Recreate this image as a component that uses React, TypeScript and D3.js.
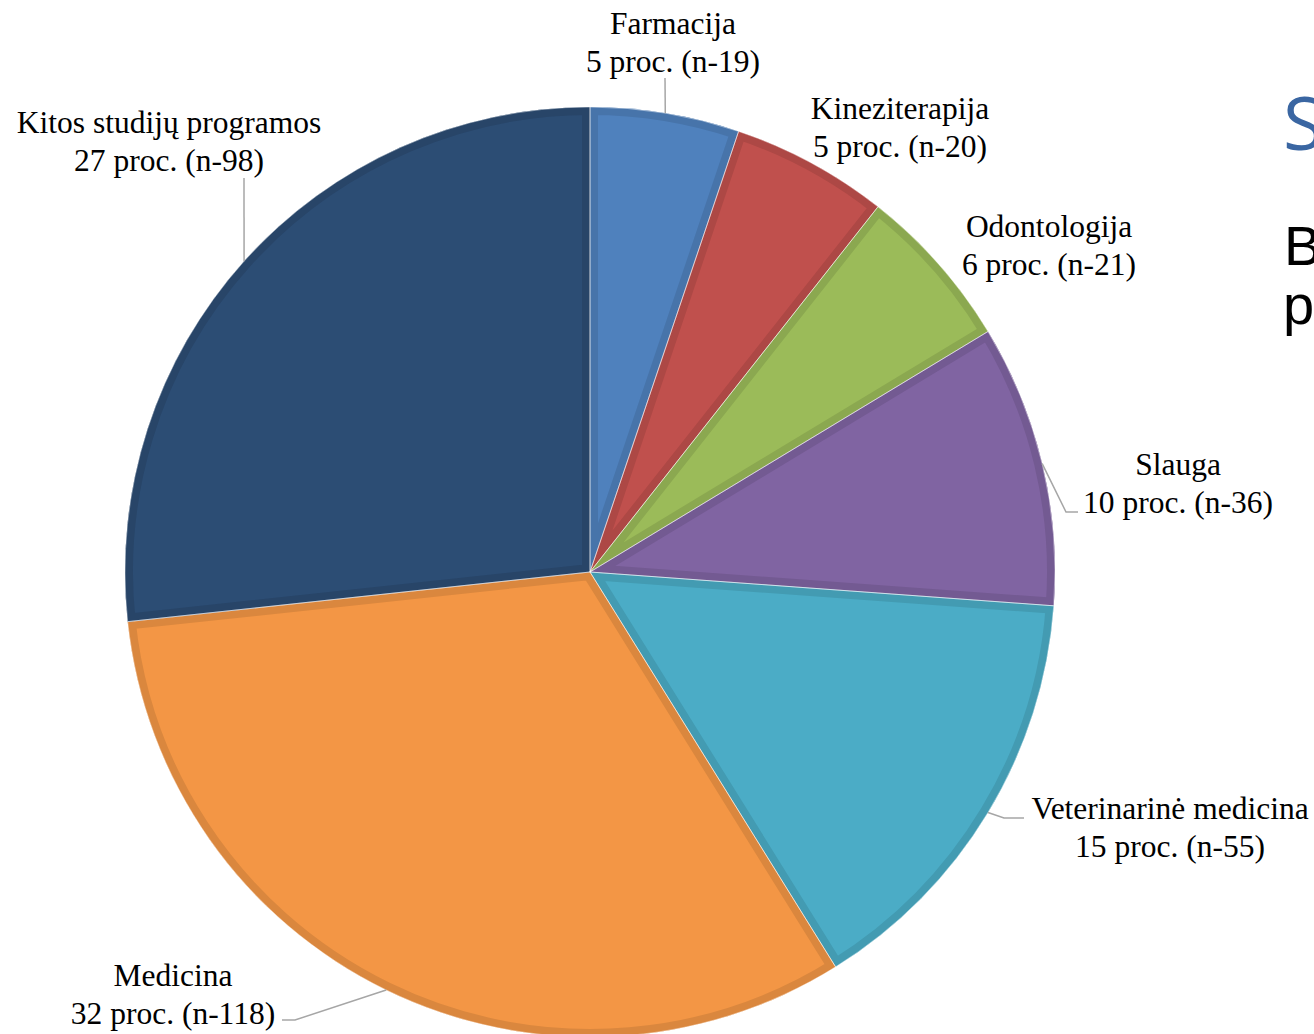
import React from "react";
import * as d3 from "d3";

const categories = [
  "Farmacija",
  "Kineziterapija",
  "Odontologija",
  "Slauga",
  "Veterinarinė medicina",
  "Medicina",
  "Kitos studijų programos",
];
const counts = [19, 20, 21, 36, 55, 118, 98];
const percents = [5, 5, 6, 10, 15, 32, 27];
const colors = ["#4F81BD", "#C0504D", "#9BBB59", "#8064A2", "#4BACC6", "#F39645", "#2C4D74"];

// label layout: centre x, first-line baseline y
const labelPos: [number, number][] = [
  [673, 34],
  [900, 119],
  [1049, 237],
  [1178, 475],
  [1170, 819],
  [173, 986],
  [169, 133],
];
const leaderBends: ([number, number][] | null)[] = [
  [[665, 78]],
  null,
  null,
  [[1066, 512], [1078, 512]],
  [[1004, 818], [1024, 818]],
  [[295, 1020], [282, 1020]],
  [[244, 178]],
];

const W = 1314;
const H = 1034;
const cx = 590;
const cy = 572;
const R = 465;

export default function App() {
  const pie = d3.pie<number>().sort(null).value((d) => d);
  const arcs = pie(counts);
  const arcGen = d3.arc<d3.PieArcDatum<number>>().innerRadius(0).outerRadius(R);

  return (
    <svg
      width={W}
      height={H}
      viewBox={`0 0 ${W} ${H}`}
      style={{ position: "absolute", left: 0, top: 0, background: "#fff" }}
    >
      <g transform={`translate(${cx},${cy})`}>
        <defs>
          {arcs.map((a, i) => (
            <clipPath id={`clip${i}`} key={i}>
              <path d={arcGen(a) || ""} />
            </clipPath>
          ))}
        </defs>
        {arcs.map((a, i) => {
          const d = arcGen(a) || "";
          const dark = d3.color(colors[i])!.darker(0.3).formatHex();
          return (
            <g key={i}>
              <path d={d} fill={colors[i]} />
              <path
                d={d}
                fill="none"
                stroke={dark}
                strokeWidth={16}
                strokeLinejoin="miter"
                clipPath={`url(#clip${i})`}
              />
            </g>
          );
        })}
        {arcs.map((a, i) => (
          <path
            key={"o" + i}
            d={arcGen(a) || ""}
            fill="none"
            stroke="#ffffff"
            strokeOpacity={0.45}
            strokeWidth={1}
          />
        ))}
      </g>
      <g>
        {arcs.map((a, i) => {
          const bends = leaderBends[i];
          if (!bends) return null;
          const mid = (a.startAngle + a.endAngle) / 2;
          const p0: [number, number] = [cx + R * Math.sin(mid), cy - R * Math.cos(mid)];
          const line = d3.line()([p0, ...bends]) || "";
          return <path key={i} d={line} fill="none" stroke="#A6A6A6" strokeWidth={1.5} />;
        })}
      </g>
      <g fontFamily="'Liberation Serif', 'Times New Roman', serif" fontSize={31.5} fill="#000">
        {categories.map((c, i) => (
          <text key={i} x={labelPos[i][0]} y={labelPos[i][1]} textAnchor="middle">
            <tspan x={labelPos[i][0]}>{c}</tspan>
            <tspan x={labelPos[i][0]} dy={37.5}>{`${percents[i]} proc. (n-${counts[i]})`}</tspan>
          </text>
        ))}
      </g>
      <g>
        <text x={1283} y={150} fontSize={74} fill="#3A66A2" fontFamily="'Open Sans', sans-serif">S</text>
        <text x={1284} y={265} fontSize={56} fill="#000" fontFamily="'Liberation Sans', Arial, sans-serif">B</text>
        <text x={1283} y={324} fontSize={56} fill="#000" fontFamily="'Liberation Sans', Arial, sans-serif">p</text>
      </g>
    </svg>
  );
}
